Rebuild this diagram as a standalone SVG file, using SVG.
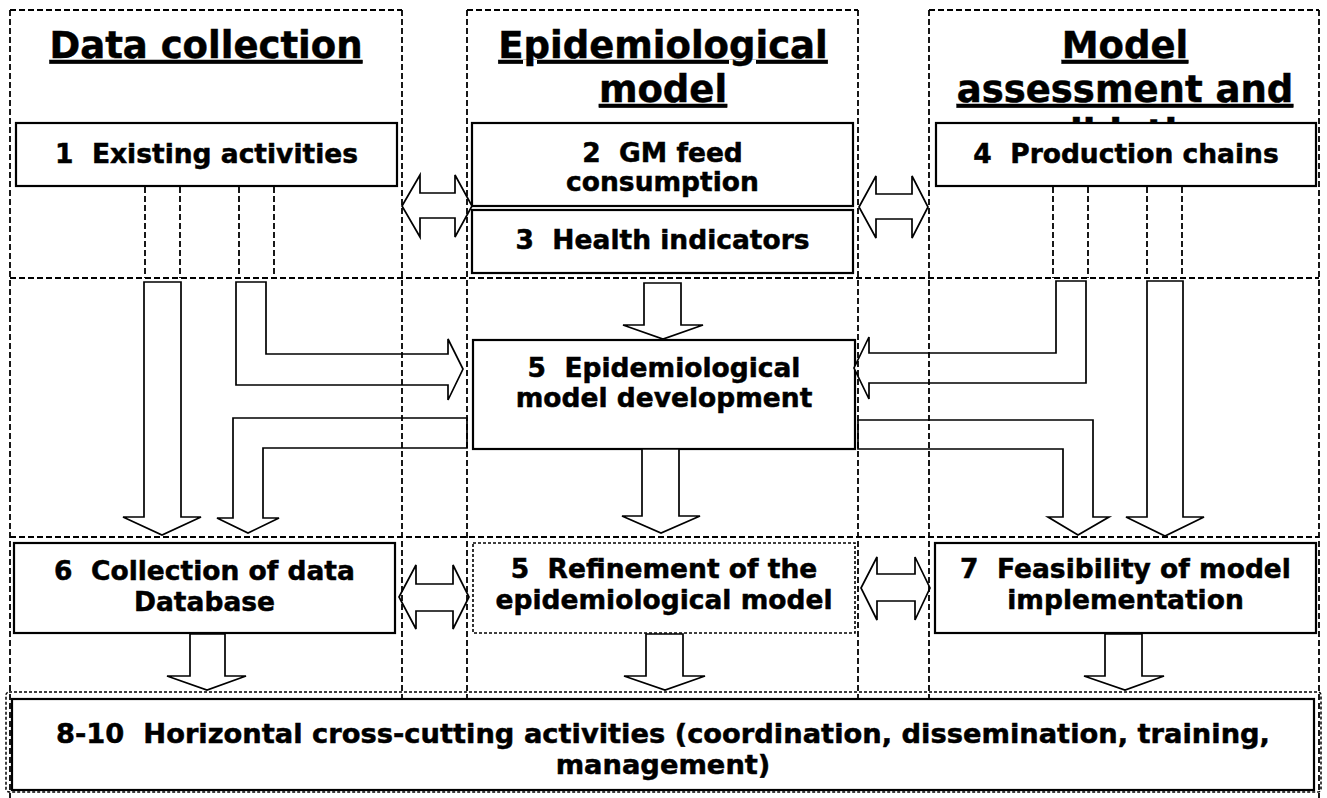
<svg xmlns="http://www.w3.org/2000/svg" width="1327" height="798" viewBox="0 0 1327 798">
<style>
.frame{fill:none;stroke:#000;stroke-width:1.8;stroke-dasharray:6 3}
.fine{fill:none;stroke:#000;stroke-width:1.5;stroke-dasharray:3 2}
.box{fill:#fff;stroke:#000;stroke-width:2.2}
.dbox{fill:#fff;stroke:#000;stroke-width:1.6;stroke-dasharray:3 2}
.arrow{fill:#fff;stroke:#000;stroke-width:1.7;stroke-linejoin:miter}
text{font-family:"DejaVu Sans",Verdana,sans-serif;font-weight:bold;fill:#000;stroke:#000;stroke-width:0.5;text-anchor:middle}
.title{font-size:37px;text-decoration:underline}
.lbl{font-size:26.5px}
.big{font-size:27.3px}
</style>
<rect x="0" y="0" width="1327" height="798" fill="#fff"/>
<g id="titles">
<text class="title" x="206" y="58">Data collection</text>
<text class="title" x="663" y="58">Epidemiological</text>
<text class="title" x="663" y="102">model</text>
<text class="title" x="1125" y="58">Model</text>
<text class="title" x="1125" y="102">assessment and</text>
<text class="title" x="1125" y="146">validation</text>
</g>
<g id="n1"><rect class="box" x="16" y="123" width="381" height="63"/><text class="lbl" x="206.5" y="163" xml:space="preserve">1  Existing activities</text></g>
<g id="n2"><rect class="box" x="472" y="123" width="381" height="83"/><text class="lbl" x="662.5" y="162" xml:space="preserve">2  GM feed</text><text class="lbl" x="662.5" y="191">consumption</text></g>
<g id="n3"><rect class="box" x="472" y="210" width="381" height="63"/><text class="lbl" x="662.5" y="249" xml:space="preserve">3  Health indicators</text></g>
<g id="n4"><rect class="box" x="936" y="123" width="380" height="63"/><text class="lbl" x="1126" y="163" xml:space="preserve">4  Production chains</text></g>
<g id="n5"><rect class="box" x="473" y="340" width="382" height="109"/><text class="lbl" x="664" y="377" xml:space="preserve">5  Epidemiological</text><text class="lbl" x="664" y="407">model development</text></g>
<g id="n6"><rect class="box" x="14" y="543" width="381" height="90"/><text class="lbl" x="204.5" y="580" xml:space="preserve">6  Collection of data</text><text class="lbl" x="204.5" y="611">Database</text></g>
<g id="n5b"><rect class="dbox" x="473" y="543" width="382" height="90"/><text class="lbl" x="664" y="578" xml:space="preserve">5  Refinement of the</text><text class="lbl" x="664" y="609">epidemiological model</text></g>
<g id="n7"><rect class="box" x="935" y="543" width="381" height="90"/><text class="lbl" x="1125.5" y="578" xml:space="preserve">7  Feasibility of model</text><text class="lbl" x="1125.5" y="609">implementation</text></g>
<g id="n8"><rect class="box" x="12" y="699" width="1302" height="91" stroke-width="2.6"/><text class="big" x="663" y="743" xml:space="preserve">8-10  Horizontal cross-cutting activities (coordination, dissemination, training,</text><text class="big" x="663" y="774">management)</text></g>
<g id="connectors">
<polygon class="arrow" points="402,206 420,175 420,193 455,193 455,175 472,206 455,237 455,218 420,218 420,237"/>
<polygon class="arrow" points="859,207 876,176 876,194 912,194 912,176 928,207 912,238 912,219 876,219 876,238"/>
<polygon class="arrow" points="644,283 681,283 681,325 703,325 663,339 623,325 644,325"/>
<polygon class="arrow" points="642,449 679,449 679,516 700,516 661,533 622,516 642,516"/>
<polygon class="arrow" points="144,282 181,282 181,517 201,517 162,535 123,517 144,517"/>
<polygon class="arrow" points="236,282 266,282 266,354 448,354 448,339 463,369 448,400 448,385 236,385"/>
<polygon class="arrow" points="467,418 467,448 263,448 263,518 279,518 248,533 217,518 233,518 233,418"/>
<polygon class="arrow" points="1056,281 1086,281 1086,383 869,383 869,399 854,368 869,337 869,353 1056,353"/>
<polygon class="arrow" points="1147,281 1183,281 1183,517 1204,517 1165,536 1126,517 1147,517"/>
<polygon class="arrow" points="858,420 1093,420 1093,517 1109,517 1078,535 1048,517 1063,517 1063,449 858,449"/>
<polygon class="arrow" points="190,634 225,634 225,676 246,676 207,690 167,676 190,676"/>
<polygon class="arrow" points="646,634 683,634 683,676 705,676 665,690 624,676 646,676"/>
<polygon class="arrow" points="1105,634 1142,634 1142,676 1164,676 1125,690 1084,676 1105,676"/>
<polygon class="arrow" points="399,597 416,565 416,584 453,584 453,565 469,597 453,629 453,611 416,611 416,629"/>
<polygon class="arrow" points="861,588 877,557 877,574 915,574 915,557 930,588 915,620 915,601 877,601 877,620"/>
<path class="frame" d="M145,187V278M180,187V278M239,187V278M274,187V278M1053,187V278M1088,187V278M1147,187V278M1182,187V278"/>
</g>
<g id="frames">
<path class="frame" d="M10,10H402M467,10H858M929,10H1319M10,10V798M402,10V698M467,10V698M858,10V698M929,10V698M1319,10V798M10,278H1319M10,537H1319"/>
<rect class="fine" x="6" y="692" width="1315" height="100" rx="3"/>
</g>
</svg>
